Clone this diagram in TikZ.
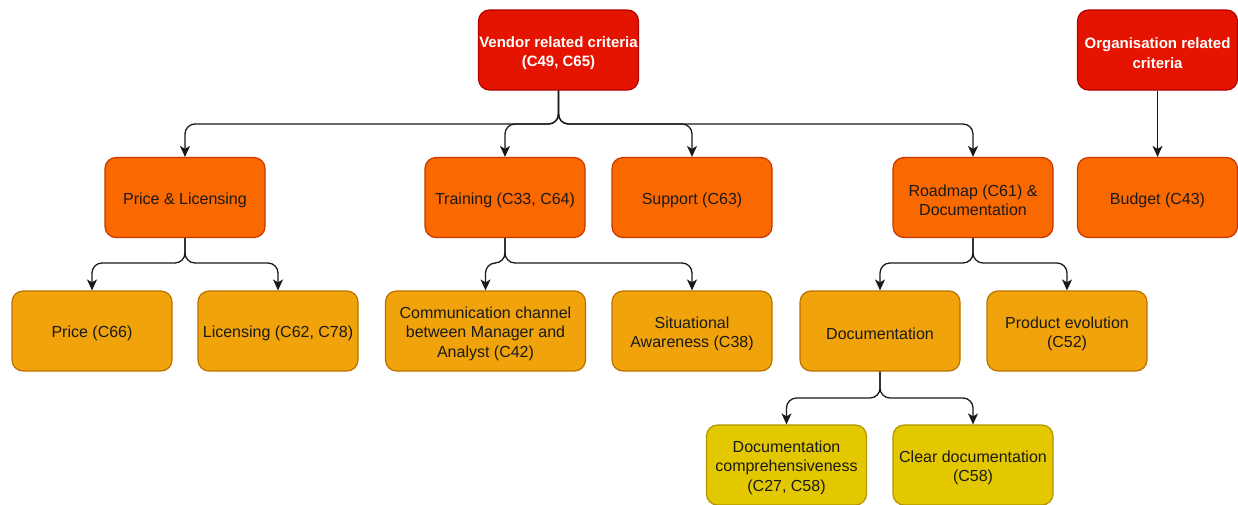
\documentclass[tikz,border=0pt]{standalone}
\usepackage{fontspec}
\setmainfont{Liberation Sans}
\usetikzlibrary{arrows.meta}
\definecolor{redfill}{HTML}{E51400}
\definecolor{redline}{HTML}{B20000}
\definecolor{orangefill}{HTML}{FA6800}
\definecolor{orangeline}{HTML}{C73500}
\definecolor{amberfill}{HTML}{F0A30A}
\definecolor{amberline}{HTML}{BD7000}
\definecolor{yellowfill}{HTML}{E3C800}
\definecolor{yellowline}{HTML}{B09500}
\definecolor{boxtext}{HTML}{1A1A1A}
% tall strut on the first line, lowering the text a little inside its box
\newcommand{\topstrut}{\rule{0pt}{17pt}}
\tikzset{
  x=1pt, y=-1pt,
  box/.style={draw, rounded corners=11pt, line width=1.2pt, minimum width=160pt,
    minimum height=80pt, inner sep=0pt, align=center,
    font=\fontsize{16}{19.2}\selectfont, text=boxtext},
  topbox/.style={box, fill=redfill, draw=redline, text=white, font=\fontsize{15}{19.5}\selectfont\bfseries},
  midbox/.style={box, fill=orangefill, draw=orangeline},
  lowbox/.style={box, fill=amberfill, draw=amberline},
  leafbox/.style={box, fill=yellowfill, draw=yellowline},
  link/.style={draw=black!90, line width=1.3pt, rounded corners=10pt,
    -{Stealth[length=11pt,width=10pt,inset=3pt]}}
}
\begin{document}
\begin{tikzpicture}
\useasboundingbox (0,0) rectangle (1238,504);

% top level
\node[topbox] (vendor) at (558.5,50) {\topstrut Vendor related criteria\\(C49, C65)};
\node[topbox] (org) at (1157.5,50) {\topstrut Organisation related\\criteria};

% second level
\node[midbox] (pricelic) at (185,197.5) {\topstrut Price \& Licensing};
\node[midbox] (training) at (505,197.5) {\topstrut Training (C33, C64)};
\node[midbox] (support) at (692,197.5) {\topstrut Support (C63)};
\node[midbox] (roadmap) at (973,197.5) {\topstrut Roadmap (C61) \&\\Documentation};
\node[midbox] (budget) at (1157.5,197.5) {\topstrut Budget (C43)};

% third level
\node[lowbox] (price) at (92,331) {\topstrut Price (C66)};
\node[lowbox] (licensing) at (278,331) {\topstrut Licensing (C62, C78)};
\node[lowbox, minimum width=200pt] (comm) at (485.5,331) {\topstrut Communication channel\\between Manager and\\Analyst (C42)};
\node[lowbox] (situ) at (692,331) {\topstrut Situational\\Awareness (C38)};
\node[lowbox] (docu) at (880,331) {\topstrut Documentation};
\node[lowbox] (product) at (1067,331) {\topstrut Product evolution\\(C52)};

% fourth level
\node[leafbox] (compr) at (786.5,465) {\topstrut Documentation\\comprehensiveness\\(C27, C58)};
\node[leafbox] (clear) at (973,465) {\topstrut Clear documentation\\(C58)};

% connectors
\foreach \child in {pricelic,training,support,roadmap}
  \draw[link] (vendor.south) -- (vendor.south |- 0,124) -- (\child.north |- 0,124) -- (\child.north);
\draw[link] (org.south) -- (budget.north);
\foreach \child in {price,licensing}
  \draw[link] (pricelic.south) -- (pricelic.south |- 0,263) -- (\child.north |- 0,263) -- (\child.north);
\foreach \child in {comm,situ}
  \draw[link] (training.south) -- (training.south |- 0,263) -- (\child.north |- 0,263) -- (\child.north);
\foreach \child in {docu,product}
  \draw[link] (roadmap.south) -- (roadmap.south |- 0,263) -- (\child.north |- 0,263) -- (\child.north);
\foreach \child in {compr,clear}
  \draw[link] (docu.south) -- (docu.south |- 0,398) -- (\child.north |- 0,398) -- (\child.north);
\end{tikzpicture}
\end{document}
